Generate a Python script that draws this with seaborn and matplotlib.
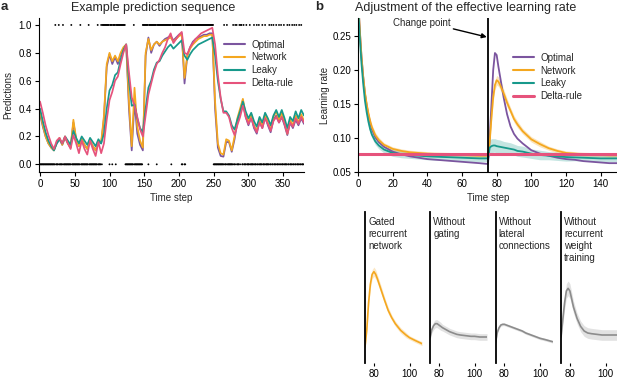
import numpy as np
import pandas as pd
import matplotlib
matplotlib.use("Agg")
import matplotlib.pyplot as plt
from matplotlib.lines import Line2D
import seaborn as sns

sns.set_theme(style="ticks")
plt.rcParams["font.family"] = ["Liberation Sans", "DejaVu Sans"]

# ---------------- Panel a data ----------------
n_steps = 380
# runs of observations equal to 1 (inclusive start, end); every other step is 0
one_runs = [(22, 22), (27, 27), (33, 33), (45, 45), (58, 58), (70, 70), (83, 83), (88, 88),
            (90, 99), (101, 103), (105, 108), (110, 122), (135, 135),
            (148, 155), (157, 167), (169, 188), (190, 203), (206, 207), (210, 249),
            (265, 265), (269, 269), (278, 278), (281, 281), (283, 283), (287, 287), (289, 290),
            (293, 293), (297, 297), (302, 302), (308, 308), (312, 312), (315, 315), (320, 320),
            (324, 324), (330, 330), (333, 333), (336, 336), (340, 340), (344, 344), (347, 347),
            (351, 351), (356, 356), (359, 359), (363, 363), (366, 366), (369, 369), (373, 373),
            (376, 376)]

t_pred = list(range(0, 381, 4))
pred_optimal = [.36, .27, .20, .15, .12, .10, .15, .18, .14, .19, .15, .12, .30, .18, .13, .18, .14, .11, .17, .13, .10, .16, .15,
                .33, .70, .79, .72, .77, .72, .79, .83, .86,
                .40, .10, .45, .22, .14, .10,
                .78, .91, .80, .86, .88, .85, .88, .90, .91, .92, .89, .91, .93, .94, .58, .78, .84, .88, .90, .91, .92, .93, .93, .94, .94,
                .40, .12, .06, .055, .16, .16, .09, .18, .30, .38, .46, .34, .28, .34, .26, .22, .31, .26, .34, .28, .23, .32, .35, .30, .34,
                .28, .21, .30, .26, .32, .28, .33, .29]
pred_network = [.38, .28, .20, .15, .12, .10, .16, .19, .14, .20, .15, .12, .32, .18, .13, .18, .14, .11, .17, .13, .10, .17, .16,
                .35, .72, .80, .74, .78, .74, .80, .84, .86,
                .45, .13, .55, .27, .17, .12,
                .80, .90, .82, .86, .88, .86, .88, .89, .90, .91, .88, .90, .92, .93, .62, .78, .83, .86, .88, .90, .91, .92, .92, .93, .93,
                .45, .15, .08, .07, .18, .17, .10, .20, .33, .40, .47, .36, .30, .36, .28, .24, .33, .28, .36, .30, .25, .34, .38, .32, .37,
                .30, .22, .32, .28, .35, .30, .36, .31]
pred_leaky = [.40, .31, .23, .17, .13, .10, .15, .18, .15, .20, .17, .14, .24, .19, .15, .20, .17, .14, .19, .16, .13, .18, .15,
              .22, .40, .53, .57, .64, .66, .75, .82, .86,
              .60, .42, .43, .33, .26, .23,
              .40, .55, .60, .68, .73, .74, .78, .81, .84, .86, .83, .85, .87, .89, .78, .75, .79, .82, .84, .86, .87, .88, .89, .90, .91,
              .78, .60, .47, .38, .38, .35, .28, .25, .32, .38, .45, .38, .33, .37, .31, .27, .34, .30, .37, .33, .28, .35, .39, .34, .39,
              .33, .26, .34, .31, .38, .33, .39, .35]
pred_delta = [.45, .37, .28, .21, .15, .11, .17, .19, .15, .20, .15, .11, .21, .15, .08, .17, .11, .07, .17, .11, .06, .16, .08,
              .15, .32, .46, .52, .60, .63, .72, .80, .86,
              .66, .48, .42, .34, .25, .20,
              .35, .50, .58, .66, .72, .75, .80, .84, .90, .94, .87, .90, .93, .95, .80, .79, .84, .87, .90, .92, .94, .95, .96, .97, .98,
              .86, .64, .48, .37, .37, .34, .26, .21, .28, .34, .42, .34, .29, .33, .27, .23, .30, .26, .33, .29, .24, .31, .34, .30, .34,
              .29, .22, .30, .27, .33, .29, .34, .30]

models = ["Optimal", "Network", "Leaky", "Delta-rule"]
palette = {"Optimal": "#7b559f", "Network": "#f4a71f", "Leaky": "#17998b", "Delta-rule": "#e6537c"}

# ---------------- Panel b data ----------------
change_point = 75
t_lr = [0, 1, 2, 3, 4, 5, 6, 7, 8, 10, 12, 15, 20, 25, 30, 35, 40, 45, 50, 55, 60, 65, 70, 74, 75,
        76, 77, 78, 79, 80, 81, 82, 84, 86, 88, 90, 92, 95,
        100, 105, 110, 115, 120, 125, 130, 135, 140, 145, 150]
lr_optimal = [.31, .26, .22, .19, .165, .148, .134, .122, .113, .101, .094, .087, .080, .076, .073, .071, .069, .068, .067, .066,
              .065, .064, .063, .062, .062,
              .10, .15, .20, .225, .222, .205, .19, .16, .135, .117, .106, .099, .092,
              .082, .077, .074, .071, .069, .068, .066, .065, .064, .063, .063]
lr_network = [.31, .26, .22, .19, .167, .150, .136, .125, .116, .104, .097, .090, .084, .081, .079, .078, .077, .0765, .076, .0755,
              .075, .0745, .074, .074, .074,
              .095, .13, .16, .178, .185, .183, .178, .166, .152, .140, .128, .120, .110,
              .098, .091, .085, .081, .078, .077, .076, .0755, .075, .0745, .0745]
ci_network = [.006, .006, .005, .005, .004, .004, .004, .004, .004, .004, .004, .003, .003, .003, .003, .003, .003, .003, .003, .003,
              .003, .003, .003, .003, .003,
              .004, .005, .006, .007, .007, .007, .007, .006, .006, .005, .005, .005, .004,
              .004, .004, .003, .003, .003, .003, .003, .003, .003, .003, .003]
lr_leaky = [.30, .25, .21, .18, .155, .138, .124, .113, .105, .095, .089, .083, .078, .076, .075, .074, .073, .0725, .072, .0715,
            .071, .0705, .070, .070, .070,
            .086, .088, .089, .089, .088, .0875, .087, .086, .085, .084, .083, .081, .080,
            .077, .075, .074, .073, .072, .0715, .071, .0705, .070, .070, .070]
ci_leaky = [.006, .006, .006, .006, .006, .006, .006, .006, .005, .005, .005, .005, .005, .005, .005, .005, .005, .005, .005, .005,
            .005, .005, .005, .005, .005,
            .011, .011, .010, .010, .010, .010, .010, .009, .009, .009, .008, .008, .008,
            .007, .007, .006, .006, .006, .005, .005, .005, .005, .005, .005]
t_delta = [0, 150]
lr_delta = [0.076, 0.076]

# ---------------- small panels data ----------------
t_sub = [75, 76, 77, 78, 79, 80, 81, 82, 84, 86, 88, 90, 92, 95, 98, 100, 103, 107]
sub_titles = ["Gated\nrecurrent\nnetwork", "Without\ngating", "Without\nlateral\nconnections",
              "Without\nrecurrent\nweight\ntraining"]
sub_gated = [.074, .10, .14, .168, .183, .187, .183, .176, .160, .144, .129, .118, .109, .099, .092, .088, .084, .079]
ci_gated = [.003, .004, .005, .006, .007, .007, .007, .006, .006, .005, .005, .004, .004, .004, .004, .003, .003, .003]
sub_no_gating = [.088, .100, .106, .109, .109, .107, .105, .103, .100, .097, .095, .093, .092, .091, .090, .090, .089, .089]
ci_no_gating = [.004, .005, .006, .006, .006, .006, .006, .005, .005, .005, .005, .005, .005, .005, .005, .005, .005, .005]
sub_no_lateral = [.080, .096, .103, .107, .108, .108, .107, .106, .104, .102, .100, .098, .095, .092, .089, .087, .085, .082]
ci_no_lateral = [.002, .002, .002, .002, .002, .002, .002, .002, .002, .002, .002, .002, .002, .002, .002, .002, .002, .002]
sub_no_rec = [.089, .115, .140, .158, .162, .158, .146, .134, .117, .105, .098, .095, .094, .093, .092, .092, .092, .092]
ci_no_rec = [.006, .008, .010, .011, .011, .011, .010, .009, .008, .008, .008, .008, .008, .008, .008, .008, .008, .008]
sub_colors = ["#f4a71f", "#8c8c8c", "#8c8c8c", "#8c8c8c"]

# ---------------- figure ----------------
W, H = 617, 380
fig = plt.figure(figsize=(W / 100, H / 100), dpi=100)


def px_axes(left, top, width, height):
    return fig.add_axes([left / W, 1 - (top + height) / H, width / W, height / H])


def style(ax):
    for s in ["top", "right"]:
        ax.spines[s].set_visible(False)
    for s in ["left", "bottom"]:
        ax.spines[s].set_color("black")
        ax.spines[s].set_linewidth(0.8)
    ax.tick_params(labelsize=7, length=3, width=0.8, pad=2, colors="black")


def band_frame(t, y, h):
    t = np.asarray(t, float)
    y = np.asarray(y, float)
    h = np.asarray(h, float)
    return pd.DataFrame({"t": np.concatenate([t, t]), "v": np.concatenate([y - h, y + h])})


# ---- panel a ----
ax_a = px_axes(39, 18, 265, 154)
obs = np.zeros(n_steps, dtype=int)
for s, e in one_runs:
    obs[s:e + 1] = 1
t_obs = np.arange(n_steps)
sns.scatterplot(x=t_obs, y=obs, color="black", s=1.8, marker="o", linewidth=0, edgecolor="none",
                ax=ax_a, legend=False, zorder=5)

df_pred = pd.DataFrame({
    "t": t_pred * 4,
    "p": pred_optimal + pred_network + pred_leaky + pred_delta,
    "model": sum([[m] * len(t_pred) for m in models], []),
})
sns.lineplot(data=df_pred, x="t", y="p", hue="model", hue_order=models, palette=palette,
             lw=1.25, legend=False, errorbar=None, ax=ax_a)
ax_a.set_xlim(-1.5, 380)
ax_a.set_ylim(-0.055, 1.05)
ax_a.set_xticks([0, 50, 100, 150, 200, 250, 300, 350])
ax_a.set_yticks([0, 0.2, 0.4, 0.6, 0.8, 1.0])
ax_a.set_yticklabels(["0.0", "0.2", "0.4", "0.6", "0.8", "1.0"])
style(ax_a)
ax_a.set_xlabel("Time step", fontsize=7, labelpad=3)
ax_a.set_ylabel("Predictions", fontsize=7, labelpad=4)
handles = [Line2D([], [], color=palette[m], lw=1.5) for m in models]
ax_a.legend(handles, models, loc="upper left", bbox_to_anchor=(0.698, 0.86), frameon=False,
            fontsize=7, handlelength=2.15, handletextpad=0.7, labelspacing=0.3, borderpad=0, borderaxespad=0)

# ---- panel b ----
ax_b = px_axes(358, 18, 260, 154)
sns.lineplot(x=t_lr, y=lr_optimal, color=palette["Optimal"], lw=1.3, ax=ax_b, errorbar=None)
sns.lineplot(data=band_frame(t_lr, lr_network, ci_network), x="t", y="v", color=palette["Network"], lw=1.3,
             errorbar=("pi", 100), err_kws={"alpha": 0.3, "linewidth": 0}, ax=ax_b)
sns.lineplot(data=band_frame(t_lr, lr_leaky, ci_leaky), x="t", y="v", color=palette["Leaky"], lw=1.3,
             errorbar=("pi", 100), err_kws={"alpha": 0.25, "linewidth": 0}, ax=ax_b)
sns.lineplot(x=t_delta, y=lr_delta, color=palette["Delta-rule"], lw=2.2, ax=ax_b, errorbar=None)
ax_b.axvline(change_point, color="black", lw=1.3, zorder=6)
ax_b.set_xlim(0, 150)
ax_b.set_ylim(0.05, 0.2765)
ax_b.set_xticks([0, 20, 40, 60, 80, 100, 120, 140])
ax_b.set_yticks([0.05, 0.10, 0.15, 0.20, 0.25])
ax_b.set_yticklabels(["0.05", "0.10", "0.15", "0.20", "0.25"])
style(ax_b)
ax_b.set_xlabel("Time step", fontsize=7, labelpad=3)
ax_b.set_ylabel("Learning rate", fontsize=7, labelpad=2)
hb = [Line2D([], [], color=palette[m], lw=(2.2 if m == "Delta-rule" else 1.5)) for m in models]
ax_b.legend(hb, models, loc="upper left", bbox_to_anchor=(0.598, 0.775), frameon=False,
            fontsize=7, handlelength=2.1, handletextpad=0.7, labelspacing=0.3, borderpad=0, borderaxespad=0)
ax_b.text(37, 0.2696, "Change point", fontsize=7, ha="center", va="center")
ax_b.annotate("", xy=(74.3, 0.2485), xytext=(55, 0.2605),
              arrowprops=dict(arrowstyle="-|>", color="black", lw=1.0, mutation_scale=7, shrinkA=0, shrinkB=0))

# ---- small panels ----
sub_series = [(sub_gated, ci_gated), (sub_no_gating, ci_no_gating), (sub_no_lateral, ci_no_lateral), (sub_no_rec, ci_no_rec)]
lefts = [365, 430, 495.5, 561]
for i, (left, (vals, ci)) in enumerate(zip(lefts, sub_series)):
    ax = px_axes(left, 212, 57, 151)
    sns.lineplot(data=band_frame(t_sub, vals, ci), x="t", y="v", color=sub_colors[i], lw=1.2,
                 errorbar=("pi", 100), err_kws={"alpha": 0.25, "linewidth": 0}, ax=ax)
    ax.set_xlim(75, 107)
    ax.set_ylim(0.05, 0.2765)
    style(ax)
    ax.spines["bottom"].set_visible(False)
    ax.spines["left"].set_linewidth(1.3)
    ax.set_yticks([])
    ax.set_xticks([80, 100])
    ax.tick_params(axis="x", length=2)
    ax.set_xlabel("")
    ax.set_ylabel("")
    ax.text(0.055, 0.965, sub_titles[i], transform=ax.transAxes, fontsize=7, ha="left", va="top", linespacing=1.22)

# ---- titles and panel letters ----
fig.text(153 / W, 1 - 10.5 / H, "Example prediction sequence", fontsize=9, ha="center", va="baseline")
fig.text(466 / W, 1 - 10.5 / H, "Adjustment of the effective learning rate", fontsize=9, ha="center", va="baseline")
fig.text(0.5 / W, 1 - 10 / H, "a", fontsize=9.5, fontweight="bold", ha="left", va="baseline")
fig.text(315 / W, 1 - 10 / H, "b", fontsize=9.5, fontweight="bold", ha="left", va="baseline")

fig.savefig("out.png", dpi=100)
